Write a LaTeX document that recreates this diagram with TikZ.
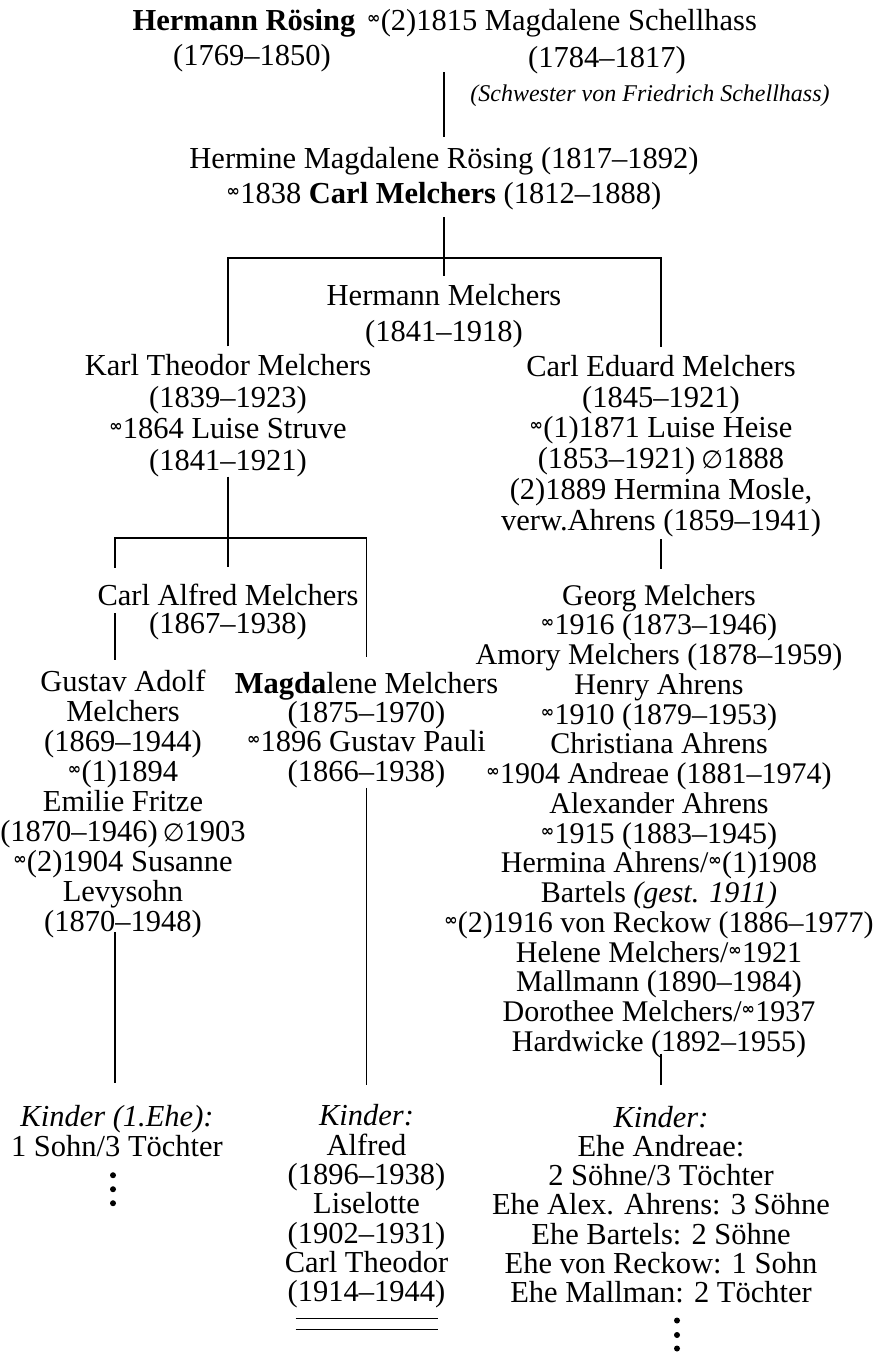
\documentclass[tikz,border=0pt]{standalone}
\usepackage{fontspec}
\setmainfont{Liberation Serif}
\newfontfamily\symf{DejaVu Sans}
\newcommand\mar{\raisebox{7pt}{\fontsize{16}{16}\selectfont\symf\bfseries ∞}\kern0.3pt}
\newcommand\sepr{{\fontsize{25}{25}\selectfont\symf ∅}}
\tikzset{
  every node/.style={inner sep=0pt, outer sep=0pt},
  txt/.style={align=center, font=\fontsize{30.5}{#1}\selectfont},
  txt/.default=30,
  txtn/.style={align=center, font=\fontsize{30}{#1}\selectfont},
  note/.style={font=\fontsize{24}{24}\selectfont\itshape},
  link/.style={line width=1.1pt},
  dot/.style={fill=black}
}
\begin{document}
\begin{tikzpicture}[x=1pt,y=-1pt]
\useasboundingbox (0,0) rectangle (875,1354);
\fill[white] (0,0) rectangle (875,1354);

% top generation
\node[txt, anchor=base] (hr) at (244,31) {\textbf{Hermann Rösing}};
\node[txt, anchor=base] (ms) at (562,31) {\mar(2)1815 Magdalene Schellhass};
\node[txt, anchor=base] (d1) at (252,66) {(1769--1850)};
\node[txt, anchor=base] (d2) at (607,67) {(1784--1817)};
\node[note, anchor=base] (sch) at (650,101) {(Schwester von Friedrich Schellhass)};

\node[txt=35] (hm) at (444,179) {Hermine Magdalene Rösing (1817--1892)\\\mar1838 \textbf{Carl Melchers} (1812--1888)};

\node[txt=36] (hme) at (444,316) {Hermann Melchers\\(1841--1918)};
\node[txt=31.5] (ktm) at (228,415.5) {Karl Theodor Melchers\\(1839--1923)\\\mar1864 Luise Struve\\(1841--1921)};
\node[txt=30.8] (cem) at (661,446) {Carl Eduard Melchers\\(1845--1921)\\\mar(1)1871 Luise Heise\\(1853--1921)\hspace{6pt}\sepr1888\\(2)1889 Hermina Mosle,\\verw.Ahrens (1859--1941)};

\node[txt=28] (cam) at (228,612) {Carl Alfred Melchers\\(1867--1938)};
\node[txtn=29.73] (gm) at (659,821) {Georg Melchers\\\mar1916 (1873--1946)\\Amory Melchers (1878--1959)\\Henry Ahrens\\\mar1910 (1879--1953)\\Christiana Ahrens\\\mar1904 Andreae (1881--1974)\\Alexander Ahrens\\\mar1915 (1883--1945)\\Hermina Ahrens/\mar(1)1908\\Bartels \textit{(gest. 1911)}\\\mar(2)1916 von Reckow (1886--1977)\\Helene Melchers/\mar1921\\Mallmann (1890--1984)\\Dorothee Melchers/\mar1937\\Hardwicke (1892--1955)};

\node[txt=30] (gam) at (123,804) {Gustav Adolf\\Melchers\\(1869--1944)\\\mar(1)1894\\Emilie Fritze\\(1870--1946)\hspace{5pt}\sepr1903\\\mar(2)1904 Susanne\\Levysohn\\(1870--1948)};
\node[txt=29.3] (mag) at (366.5,730) {\textbf{Magda}lene Melchers\\(1875--1970)\\\mar1896 Gustav Pauli\\(1866--1938)};

\node[txt=30] (k1) at (117,1131) {\textit{Kinder (1.Ehe):}\\1 Sohn/3 Töchter};
\node[txt=29.3] (k2) at (366.5,1206.5) {\textit{Kinder:}\\Alfred\\(1896--1938)\\Liselotte\\(1902--1931)\\Carl Theodor\\(1914--1944)};
\node[txt=29.2] (k3) at (661,1204.6) {\textit{Kinder:}\\Ehe Andreae:\\2 Söhne/3 Töchter\\Ehe Alex. Ahrens: 3 Söhne\\Ehe Bartels: 2 Söhne\\Ehe von Reckow: 1 Sohn\\Ehe Mallman: 2 Töchter};

% junctions
\coordinate (j1) at (hm.south |- 0,258);
\coordinate (j2) at (ktm.south |- 0,538);
\coordinate (a1) at (115,568);
\coordinate (a2) at (115,613);
\coordinate (a3) at (115,932);
\coordinate (g1) at (661,539);

% connectors
\draw[link, shorten >=11pt] (d1.south -| hm.north) -- (hm.north);
\draw[link, shorten <=7pt, shorten >=8pt] (hm.south) -- (hme.north);
\draw[link] ([yshift=8pt]ktm.north) |- (j1) -| ([yshift=8pt]cem.north);
\draw[link, shorten >=17pt] (ktm.south) -- (cam.north);
\draw[link] (j2) -| (a1);
\draw[link] (a2) -- ([yshift=10pt]gam.north -| a2);
\draw[link] (j2) -| ([yshift=15pt]mag.north);
\draw[link, shorten >=15pt] (g1) -- (g1 |- gm.north);
\draw[link, shorten >=22pt] (a3) -- (a3 |- k1.north);
\draw[link, shorten >=20pt] (mag.south) -- (k2.north);
\draw[link, shorten <=-4pt, shorten >=21.5pt] (gm.south -| k3.north) -- (k3.north);

% closing double rule
\draw[link] ([xshift=-71pt,yshift=-10pt]k2.south) -- ([xshift=71pt,yshift=-10pt]k2.south);
\draw[link] ([xshift=-71pt,yshift=-21pt]k2.south) -- ([xshift=71pt,yshift=-21pt]k2.south);

% continuation dots
\foreach \d in {18.5,32.5,46.5} \fill[dot] ([xshift=-4pt,yshift=-\d pt]k1.south) circle (3pt);
\foreach \d in {17.5,32,45.5} \fill[dot] ([xshift=16pt,yshift=-\d pt]k3.south) circle (3pt);
\end{tikzpicture}
\end{document}
